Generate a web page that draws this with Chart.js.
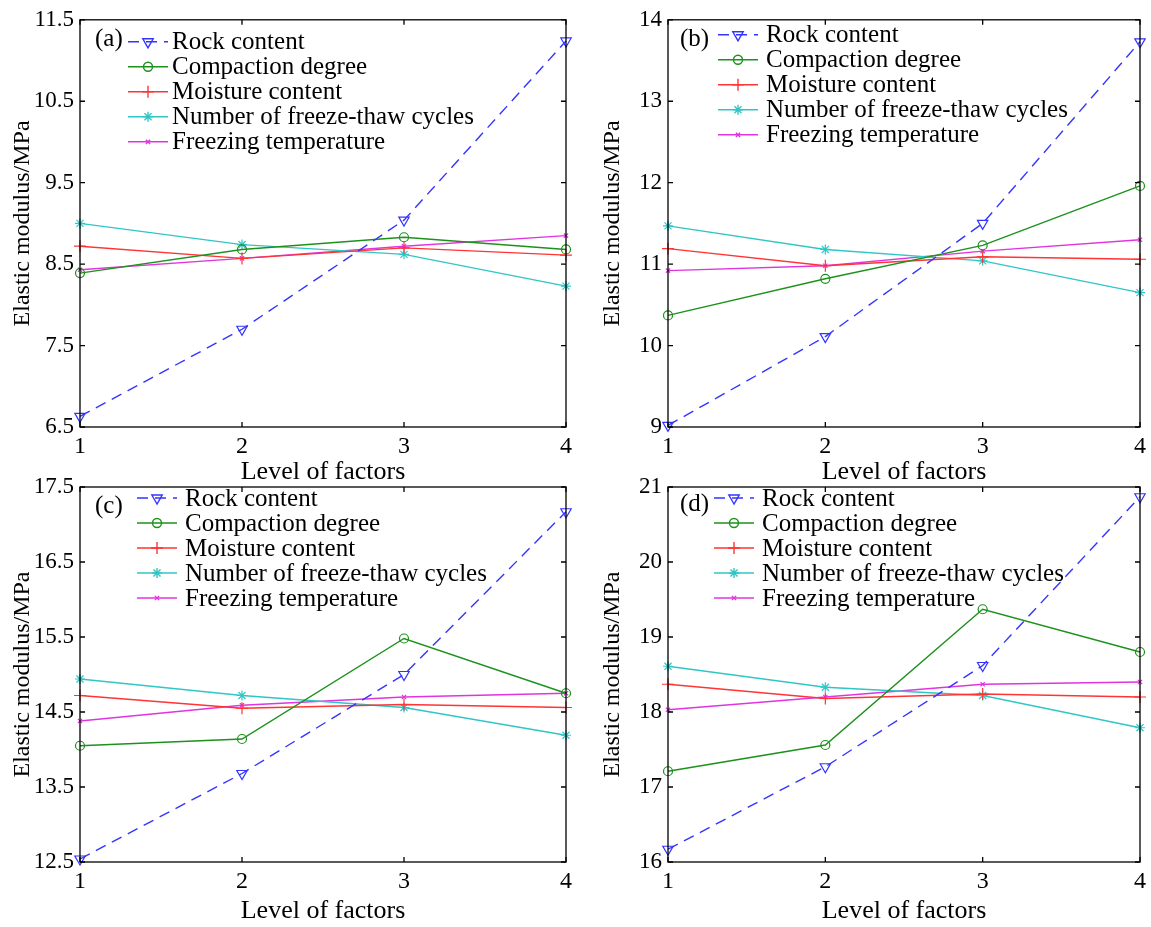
<!DOCTYPE html>
<html>
<head>
<meta charset="utf-8">
<script src="https://cdn.jsdelivr.net/npm/chart.js@4.4.0/dist/chart.umd.min.js"></script>
<style>
  body { margin: 0; background: #fff; }
  .panel { position: absolute; }
</style>
</head>
<body>
<div class="panel" style="left:0px;top:0px"><canvas id="ca" width="580" height="490"></canvas></div>
<div class="panel" style="left:580px;top:0px"><canvas id="cb" width="571" height="490"></canvas></div>
<div class="panel" style="left:0px;top:460px"><canvas id="cc" width="580" height="467"></canvas></div>
<div class="panel" style="left:580px;top:460px"><canvas id="cd" width="571" height="467"></canvas></div>
<script>
// levels on the x axis
const levels = [1, 2, 3, 4]
const seriesNames = ['Rock content', 'Compaction degree', 'Moisture content', 'Number of freeze-thaw cycles', 'Freezing temperature']

// (a)
const rockA = [6.63, 7.70, 9.04, 11.24]
const compactA = [8.39, 8.68, 8.83, 8.68]
const moistA = [8.72, 8.57, 8.70, 8.61]
const cyclesA = [9.00, 8.74, 8.62, 8.23]
const tempA = [8.43, 8.57, 8.72, 8.85]
// (b)
const rockB = [9.02, 10.11, 11.50, 13.73]
const compactB = [10.37, 10.82, 11.23, 11.96]
const moistB = [11.19, 10.98, 11.09, 11.06]
const cyclesB = [11.47, 11.18, 11.04, 10.65]
const tempB = [10.92, 10.98, 11.16, 11.30]
// (c)
const rockC = [12.54, 13.68, 15.00, 17.17]
const compactC = [14.05, 14.14, 15.48, 14.75]
const moistC = [14.72, 14.55, 14.60, 14.56]
const cyclesC = [14.94, 14.72, 14.56, 14.19]
const tempC = [14.38, 14.59, 14.70, 14.75]
// (d)
const rockD = [16.17, 17.27, 18.62, 20.87]
const compactD = [17.21, 17.56, 19.37, 18.80]
const moistD = [18.37, 18.18, 18.24, 18.20]
const cyclesD = [18.61, 18.33, 18.22, 17.79]
const tempD = [18.03, 18.20, 18.37, 18.40]

const yTicksA = [6.5, 7.5, 8.5, 9.5, 10.5, 11.5]
const yTicksB = [9, 10, 11, 12, 13, 14]
const yTicksC = [12.5, 13.5, 14.5, 15.5, 16.5, 17.5]
const yTicksD = [16, 17, 18, 19, 20, 21]

const FONT = '"Liberation Serif", "Times New Roman", serif'

const styles = [
    { color: '#3434ff', dash: [11, 7], pointStyle: 'triangle', rotation: 180, radius: 6 },
    { color: '#1c911c', dash: [], pointStyle: 'circle', rotation: 0, radius: 4.5 },
    { color: '#ff3434', dash: [], pointStyle: 'cross', rotation: 0, radius: 6 },
    { color: '#30c6c6', dash: [], pointStyle: 'star', rotation: 0, radius: 5 },
    { color: '#e034e0', dash: [], pointStyle: 'crossRot', rotation: 0, radius: 3 }
]

const framePlugin = {
    id: 'frame',
    afterDraw(chart) {
        let ctx = chart.ctx
        let a = chart.chartArea
        ctx.save()
        ctx.strokeStyle = '#000'
        ctx.lineWidth = 1.3
        ctx.strokeRect(a.left, a.top, a.right - a.left, a.bottom - a.top)
        // inward tick marks
        let xs = chart.scales.x
        xs.ticks.forEach(t => {
            let px = xs.getPixelForValue(t.value)
            ctx.beginPath()
            ctx.moveTo(px, a.bottom); ctx.lineTo(px, a.bottom - 5)
            ctx.moveTo(px, a.top); ctx.lineTo(px, a.top + 5)
            ctx.stroke()
        })
        let ys = chart.scales.y
        ys.ticks.forEach(t => {
            let py = ys.getPixelForValue(t.value)
            ctx.beginPath()
            ctx.moveTo(a.left, py); ctx.lineTo(a.left + 5, py)
            ctx.moveTo(a.right, py); ctx.lineTo(a.right - 5, py)
            ctx.stroke()
        })
        ctx.restore()
    }
}

const legendPlugin = {
    id: 'inlegend',
    afterDraw(chart, args, opts) {
        let ctx = chart.ctx
        let a = chart.chartArea
        ctx.save()
        ctx.font = '25px ' + FONT
        ctx.textBaseline = 'middle'
        ctx.fillStyle = '#000'
        ctx.fillText(opts.tag, a.left + opts.tagX, a.top + opts.rowY + opts.tagDy)
        chart.data.datasets.forEach((ds, i) => {
            let y = a.top + opts.rowY + i * 25
            let x0 = a.left + opts.lineX
            let x1 = x0 + 40
            ctx.strokeStyle = ds.borderColor
            ctx.lineWidth = 1.4
            ctx.setLineDash(ds.borderDash)
            ctx.beginPath()
            ctx.moveTo(x0, y); ctx.lineTo(x1, y)
            ctx.stroke()
            ctx.setLineDash([])
            ctx.fillStyle = 'rgba(0,0,0,0)'
            Chart.helpers.drawPoint(ctx, {
                pointStyle: ds.pointStyle,
                rotation: ds.pointRotation,
                radius: ds.pointRadius,
                borderWidth: 1.2
            }, (x0 + x1) / 2, y)
            ctx.fillStyle = '#000'
            ctx.fillText(ds.label, a.left + opts.textX, y + 1)
        })
        ctx.restore()
    }
}

function make_chart(id, series, yTicks, box) {
    let datasets = series.map((vals, i) => ({
        label: seriesNames[i],
        data: levels.map((x, j) => ({ x: x, y: vals[j] })),
        borderColor: styles[i].color,
        borderWidth: 1.4,
        borderDash: styles[i].dash,
        backgroundColor: 'rgba(0,0,0,0)',
        pointStyle: styles[i].pointStyle,
        pointRotation: styles[i].rotation,
        pointRadius: styles[i].radius,
        pointBorderWidth: 1.2,
        pointBorderColor: styles[i].color,
        pointBackgroundColor: 'rgba(0,0,0,0)',
        tension: 0,
        clip: false
    }))

    return new Chart(document.getElementById(id).getContext('2d'), {
        type: 'line',
        data: { datasets: datasets },
        options: {
            responsive: false,
            animation: false,
            events: [],
            layout: { padding: { left: box.padLeft, top: box.padTop, right: box.padRight, bottom: 0 } },
            plugins: {
                legend: { display: false },
                tooltip: { enabled: false },
                inlegend: box.legend
            },
            scales: {
                x: {
                    type: 'linear',
                    min: 1,
                    max: 4,
                    afterBuildTicks: s => { s.ticks = levels.map(v => ({ value: v })) },
                    afterFit: s => { s.height = box.xHeight },
                    grid: { display: false, drawTicks: false },
                    border: { display: false },
                    ticks: { color: '#000', font: { family: FONT, size: 24 }, padding: 5, maxRotation: 0, autoSkip: false, callback: v => String(v) },
                    title: { display: true, text: 'Level of factors', color: '#000', font: { family: FONT, size: 26 }, padding: { top: 0, bottom: box.titlePad } }
                },
                y: {
                    type: 'linear',
                    min: yTicks[0],
                    max: yTicks[yTicks.length - 1],
                    afterBuildTicks: s => { s.ticks = yTicks.map(v => ({ value: v })) },
                    afterFit: s => { s.width = box.yWidth },
                    grid: { display: false, drawTicks: false },
                    border: { display: false },
                    ticks: { color: '#000', font: { family: FONT, size: 23 }, padding: 6, autoSkip: false, callback: v => String(v) },
                    title: { display: true, text: 'Elastic modulus/MPa', color: '#000', font: { family: FONT, size: 24 }, padding: { top: 0, bottom: 0 } }
                }
            }
        },
        plugins: [framePlugin, legendPlugin]
    })
}

make_chart('ca', [rockA, compactA, moistA, cyclesA, tempA], yTicksA, {
    padLeft: 8, padTop: 18, padRight: 14, yWidth: 72, xHeight: 63, titlePad: 2,
    legend: { tag: '(a)', tagX: 15, tagDy: -2, rowY: 22, lineX: 48, textX: 92 }
})
make_chart('cb', [rockB, compactB, moistB, cyclesB, tempB], yTicksB, {
    padLeft: 18, padTop: 18, padRight: 8, yWidth: 70, xHeight: 63, titlePad: 2,
    legend: { tag: '(b)', tagX: 12, tagDy: 5, rowY: 15, lineX: 50, textX: 98 }
})
make_chart('cc', [rockC, compactC, moistC, cyclesC, tempC], yTicksC, {
    padLeft: 8, padTop: 27, padRight: 14, yWidth: 72, xHeight: 65, titlePad: 0,
    legend: { tag: '(c)', tagX: 15, tagDy: 8, rowY: 11, lineX: 57, textX: 105 }
})
make_chart('cd', [rockD, compactD, moistD, cyclesD, tempD], yTicksD, {
    padLeft: 18, padTop: 27, padRight: 8, yWidth: 70, xHeight: 65, titlePad: 0,
    legend: { tag: '(d)', tagX: 12, tagDy: 6, rowY: 11, lineX: 46, textX: 94 }
})
</script>
</body>
</html>
